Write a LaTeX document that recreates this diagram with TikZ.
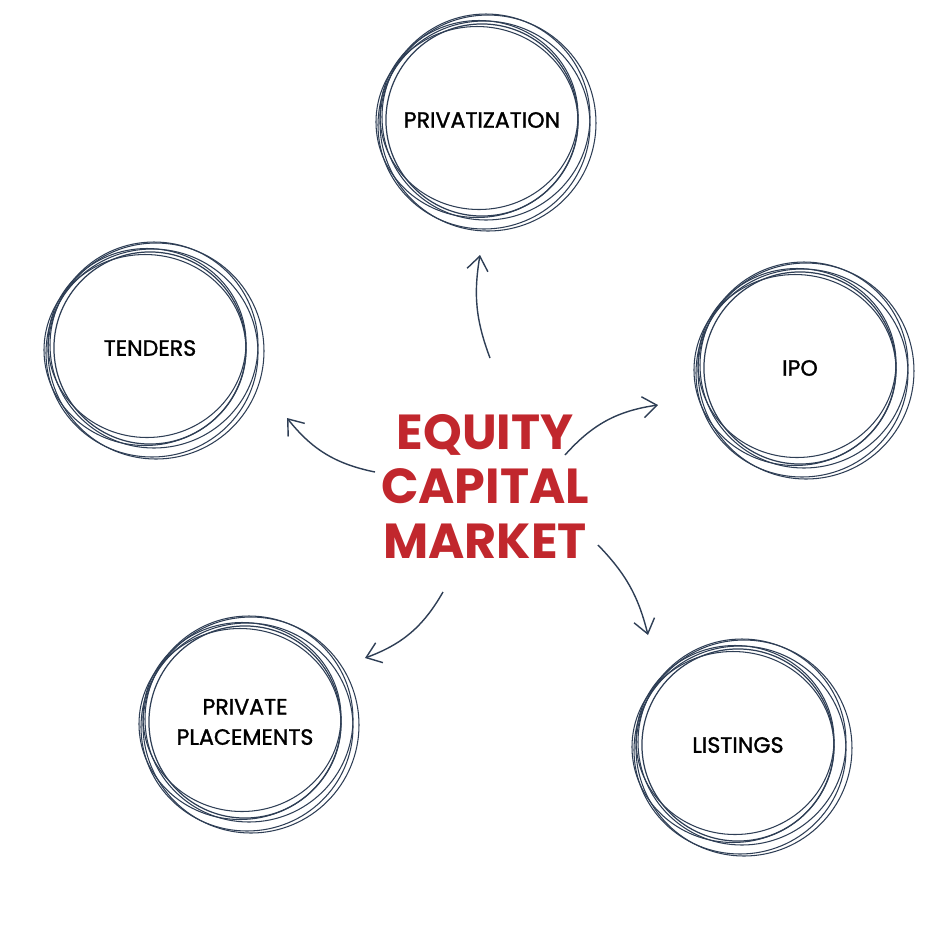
\documentclass[tikz,border=0pt]{standalone}
\usepackage{fontspec}
\setmainfont{Poppins}
\newfontfamily\ringfont[FakeBold=1.3]{Poppins}
\usetikzlibrary{arrows.meta}
\definecolor{ink}{HTML}{2E3E55}
\definecolor{ecmred}{HTML}{C1272D}
\begin{document}
\begin{tikzpicture}[x=0.01cm,y=-0.01cm]
  \tikzstyle{ring} = [circle, minimum size=1.92cm, inner sep=0pt, align=center, font=\ringfont\fontsize{6.3}{8.6}\selectfont, draw=ink, line width=0.35pt]
  \tikzstyle{arrow} = [draw=ink, line width=0.4pt, -{Straight Barb[length=4pt,width=6pt]}]
  \useasboundingbox (0,0) rectangle (950,932);

  \node (privatization) [ring] at (482,120) {PRIVATIZATION};
  \node (tenders) [ring] at (150,348) {TENDERS};
  \node (ipo) [ring] at (800,368) {IPO};
  \node (placements) [ring] at (245,722) {PRIVATE\\PLACEMENTS};
  \node (listings) [ring] at (738,745) {LISTINGS};
  \node (ecm) [align=center, text=ecmred, font=\fontsize{14}{15.5}\selectfont\bfseries] at (485,486) {EQUITY\\CAPITAL\\MARKET};

  % extra hand-drawn strokes
  \foreach \n in {privatization,tenders,ipo,placements,listings}
    \foreach \dx/\dy/\r in {4/-3/104, -5/2/101, 2/5/106, -3/-5/99, 6/3/108}
      \draw[ink, line width=0.3pt] ([shift={(\dx,\dy)}]\n.center) ellipse ({\r} and {\r-3+\dx/2});

  \coordinate (a1) at (490,358); \coordinate (b1) at (480,255);
  \coordinate (a2) at (565,455); \coordinate (b2) at (658,405);
  \coordinate (a3) at (375,472); \coordinate (b3) at (287,418);
  \coordinate (a4) at (443,592); \coordinate (b4) at (365,658);
  \coordinate (a5) at (598,545); \coordinate (b5) at (648,635);
  \draw [arrow] (a1) to[bend left=15] (b1);
  \draw [arrow] (a2) to[bend left=20] (b2);
  \draw [arrow] (a3) to[bend left=20] (b3);
  \draw [arrow] (a4) to[bend left=20] (b4);
  \draw [arrow] (a5) to[bend left=15] (b5);
\end{tikzpicture}
\end{document}
